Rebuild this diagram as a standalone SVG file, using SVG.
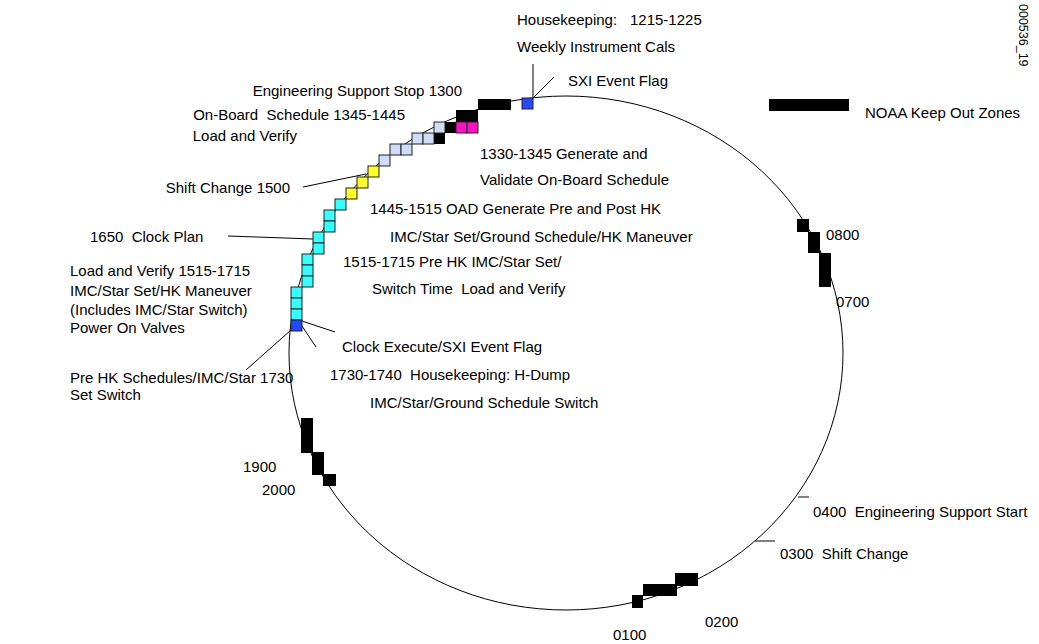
<svg xmlns="http://www.w3.org/2000/svg" width="1039" height="644" viewBox="0 0 1039 644">
<style>
text{font-family:"Liberation Sans",Arial,sans-serif;font-size:15px;fill:#000;white-space:pre}
.ln{stroke:#000;stroke-width:1;fill:none}
.k{fill:#000}
.sq{stroke:#222;stroke-width:1}
.cy{fill:#33ffff}
.ye{fill:#ffff22}
.lv{fill:#cfdcf7}
.mg{fill:#ff10c8}
.bl{fill:#2448ff}
</style>
<rect width="1039" height="644" fill="#fff"/>
<g id="orbit">
<ellipse class="ln" cx="566" cy="353" rx="277" ry="257"/>
<line class="ln" x1="798" y1="497" x2="809" y2="497"/>
<line class="ln" x1="755" y1="541" x2="775" y2="541"/>
</g>
<g id="connectors">
<line class="ln" x1="533" y1="64" x2="533" y2="98"/>
<line class="ln" x1="533" y1="98" x2="554" y2="77"/>
<line class="ln" x1="303" y1="187" x2="366" y2="174"/>
<line class="ln" x1="228" y1="236" x2="313" y2="239"/>
<line class="ln" x1="291" y1="330" x2="246" y2="370"/>
<line class="ln" x1="302" y1="326" x2="316" y2="347"/>
<line class="ln" x1="302" y1="321" x2="335" y2="332"/>
</g>
<g id="keepout">
<rect class="k" x="797" y="219" width="12" height="13"/>
<rect class="k" x="808" y="232" width="12" height="21"/>
<rect class="k" x="819" y="253" width="12" height="34"/>
<rect class="k" x="301" y="418" width="12" height="35"/>
<rect class="k" x="312" y="452" width="12" height="23"/>
<rect class="k" x="323" y="474" width="13" height="12"/>
<rect class="k" x="632" y="595" width="11" height="13"/>
<rect class="k" x="643" y="584" width="34" height="12"/>
<rect class="k" x="675" y="573" width="23" height="13"/>
<rect class="k" x="478" y="99" width="33" height="11"/>
<rect class="k" x="456" y="110" width="22" height="12"/>
<rect class="k" x="445" y="122" width="11" height="11"/>
<rect class="k" x="434" y="133" width="11" height="11"/>
</g>
<g id="schedule">
<rect class="sq lv" x="379" y="155" width="11" height="11"/>
<rect class="sq lv" x="390" y="144" width="11" height="11"/>
<rect class="sq lv" x="401" y="144" width="11" height="11"/>
<rect class="sq lv" x="412" y="133" width="11" height="11"/>
<rect class="sq lv" x="423" y="133" width="11" height="11"/>
<rect class="sq lv" x="434" y="122" width="11" height="11"/>
<rect class="sq mg" x="456" y="122" width="11" height="11"/>
<rect class="sq mg" x="467" y="122" width="11" height="11"/>
<rect class="sq ye" x="346" y="188" width="11" height="11"/>
<rect class="sq ye" x="357" y="177" width="11" height="11"/>
<rect class="sq ye" x="368" y="166" width="11" height="11"/>
<rect class="sq cy" x="335" y="199" width="11" height="11"/>
<rect class="sq cy" x="324" y="210" width="11" height="11"/>
<rect class="sq cy" x="324" y="221" width="11" height="11"/>
<rect class="sq cy" x="313" y="232" width="11" height="11"/>
<rect class="sq cy" x="313" y="243" width="11" height="11"/>
<rect class="sq cy" x="302" y="254" width="11" height="11"/>
<rect class="sq cy" x="302" y="265" width="11" height="11"/>
<rect class="sq cy" x="302" y="276" width="11" height="11"/>
<rect class="sq cy" x="291" y="287" width="11" height="11"/>
<rect class="sq cy" x="291" y="298" width="11" height="11"/>
<rect class="sq cy" x="291" y="309" width="11" height="11"/>
<rect class="sq bl" x="291" y="320" width="11" height="11"/>
<rect class="sq bl" x="522" y="98" width="11" height="11"/>
</g>
<g id="legend">
<rect class="k" x="769" y="99" width="80" height="12"/>
<text x="865" y="118">NOAA Keep Out Zones</text>
</g>
<g id="labels">
<text x="517" y="25">Housekeeping:</text>
<text x="630" y="25">1215-1225</text>
<text x="517" y="52">Weekly Instrument Cals</text>
<text x="568" y="86">SXI Event Flag</text>
<text x="462" y="96" text-anchor="end">Engineering Support Stop 1300</text>
<text x="405" y="120" text-anchor="end">On-Board  Schedule 1345-1445</text>
<text x="297" y="141" text-anchor="end">Load and Verify</text>
<text x="480" y="159">1330-1345 Generate and</text>
<text x="480" y="185">Validate On-Board Schedule</text>
<text x="290" y="193" text-anchor="end">Shift Change 1500</text>
<text x="370" y="214">1445-1515 OAD Generate Pre and Post HK</text>
<text x="390" y="242">IMC/Star Set/Ground Schedule/HK Maneuver</text>
<text x="343" y="267">1515-1715 Pre HK IMC/Star Set/</text>
<text x="372" y="294">Switch Time  Load and Verify</text>
<text x="90" y="242">1650  Clock Plan</text>
<text x="70" y="276">Load and Verify 1515-1715</text>
<text x="70" y="296">IMC/Star Set/HK Maneuver</text>
<text x="70" y="315">(Includes IMC/Star Switch)</text>
<text x="70" y="333">Power On Valves</text>
<text x="342" y="352">Clock Execute/SXI Event Flag</text>
<text x="330" y="380">1730-1740  Housekeeping: H-Dump</text>
<text x="370" y="408">IMC/Star/Ground Schedule Switch</text>
<text x="70" y="383">Pre HK Schedules/IMC/Star 1730</text>
<text x="70" y="400">Set Switch</text>
<text x="243" y="472">1900</text>
<text x="262" y="495">2000</text>
<text x="826" y="240">0800</text>
<text x="836" y="307">0700</text>
<text x="813" y="517">0400  Engineering Support Start</text>
<text x="780" y="559">0300  Shift Change</text>
<text x="613" y="640">0100</text>
<text x="705" y="627">0200</text>
<text transform="translate(1019,4) rotate(90)" x="0" y="0" style="font-size:12.5px">000536_19</text>
</g>
</svg>
